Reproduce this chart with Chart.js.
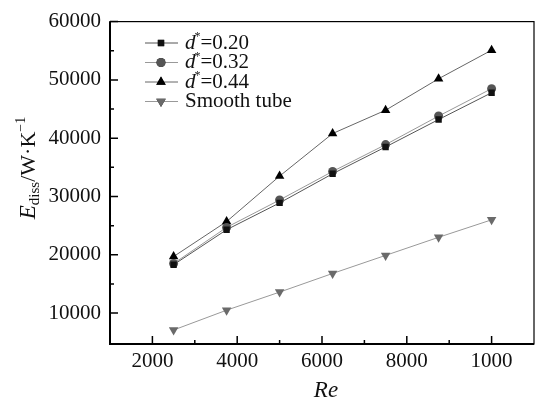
<!DOCTYPE html>
<html>
<head>
<meta charset="utf-8">
<script src="https://cdn.jsdelivr.net/npm/chart.js@4/dist/chart.umd.min.js"></script>
<style>
  html, body { margin: 0; padding: 0; background: #fff; }
  #wrap { width: 540px; height: 401px; }
</style>
</head>
<body>
<div id="wrap"><canvas id="grafik"></canvas></div>
<script>
// data
var reValues = [2500, 3750, 5000, 6250, 7500, 8750, 10000];
var d020 = [18300, 24300, 28900, 33900, 38500, 43200, 47800];
var d032 = [18500, 24700, 29400, 34300, 38900, 43800, 48500];
var d044 = [19700, 25700, 33500, 40800, 44800, 50200, 55100];
var smoothTube = [7100, 10500, 13600, 16800, 19900, 23000, 26000];
var legendNames = ['0.20', '0.32', '0.44', 'Smooth tube'];
var xTicks = [2000, 4000, 6000, 8000, 10000];
var xTickLabels = ['2000', '4000', '6000', '8000', '1000'];
var xMinor = [3000, 5000, 7000, 9000];
var yTicks = [10000, 20000, 30000, 40000, 50000, 60000];
var yMinor = [15000, 25000, 35000, 45000, 55000];

var serif = '"Liberation Serif", "DejaVu Serif", serif';

function pts(arr) {
    return reValues.map(function (x, i) { return { x: x, y: arr[i] }; });
}

var seriesDefs = [
    { data: d020, style: 'rect', rot: 0, color: '#111', line: '#555', r: 4.5 },
    { data: d032, style: 'circle', rot: 0, color: '#555', line: '#999', r: 4.5 },
    { data: d044, style: 'triangle', rot: 0, color: '#000', line: '#666', r: 5.5 },
    { data: smoothTube, style: 'triangle', rot: 180, color: '#6a6a6a', line: '#999', r: 5.5 }
];

// inward ticks, frame, legend and axis titles
var extras = {
    id: 'extras',
    afterDraw: function (chart) {
        var c = chart.ctx, a = chart.chartArea;
        var xs = chart.scales.x, ys = chart.scales.y;
        c.save();
        c.strokeStyle = '#000';
        c.lineWidth = 1.2;
        c.strokeRect(a.left, a.top, a.right - a.left, a.bottom - a.top);
        c.lineWidth = 2;
        c.beginPath();
        c.moveTo(a.left, a.top); c.lineTo(a.left, a.bottom); c.lineTo(a.right, a.bottom);
        c.stroke();

        c.lineWidth = 1.5;
        c.beginPath();
        xTicks.forEach(function (v) {
            var p = xs.getPixelForValue(v);
            c.moveTo(p, a.bottom); c.lineTo(p, a.bottom - 8);
        });
        xMinor.forEach(function (v) {
            var p = xs.getPixelForValue(v);
            c.moveTo(p, a.bottom); c.lineTo(p, a.bottom - 4);
        });
        yTicks.forEach(function (v) {
            var p = ys.getPixelForValue(v);
            c.moveTo(a.left, p); c.lineTo(a.left + 8, p);
        });
        yMinor.forEach(function (v) {
            var p = ys.getPixelForValue(v);
            c.moveTo(a.left, p); c.lineTo(a.left + 4, p);
        });
        c.stroke();

        // legend
        c.textBaseline = 'middle';
        chart.data.datasets.forEach(function (ds, i) {
            var y = 43 + i * 19.5;
            c.strokeStyle = ds.borderColor;
            c.lineWidth = 1;
            c.beginPath(); c.moveTo(145, y); c.lineTo(178, y); c.stroke();
            Chart.helpers.drawPoint(c, {
                pointStyle: ds.pointStyle, rotation: ds.pointRotation,
                radius: ds.pointRadius, borderWidth: 0
            }, 161, y);
            c.fillStyle = ds.pointBackgroundColor;
            c.fill();
            c.fillStyle = '#111';
            if (i < 3) {
                c.font = 'italic 21px ' + serif;
                c.textAlign = 'left';
                c.fillText('d', 185, y);
                var w = c.measureText('d').width;
                c.font = '12px ' + serif;
                c.fillText('*', 185 + w - 1, y - 6);
                c.font = '21px ' + serif;
                c.fillText('=' + legendNames[i], 185 + w + 5, y);
            } else {
                c.font = '21px ' + serif;
                c.textAlign = 'left';
                c.fillText(legendNames[i], 185, y);
            }
        });

        // x title
        c.fillStyle = '#111';
        c.textAlign = 'center';
        c.font = 'italic 23px ' + serif;
        c.fillText('Re', 326, 391);

        // y title, rotated
        c.translate(29, 168);
        c.rotate(-Math.PI / 2);
        var parts = [
            { t: 'E', f: 'italic 23px ' + serif, dy: 0 },
            { t: 'diss', f: '15px ' + serif, dy: 6 },
            { t: '/W\u00b7K', f: '22px ' + serif, dy: 0 },
            { t: '\u22121', f: '14px ' + serif, dy: -8 }
        ];
        var total = 0;
        parts.forEach(function (p) { c.font = p.f; p.w = c.measureText(p.t).width; total += p.w; });
        var xx = -total / 2;
        c.textAlign = 'left';
        parts.forEach(function (p) { c.font = p.f; c.fillText(p.t, xx, p.dy); xx += p.w; });
        c.restore();
    }
};

var ctx = document.getElementById('grafik').getContext('2d');
var chart = new Chart(ctx, {
    type: 'line',
    data: {
        datasets: seriesDefs.map(function (s, i) {
            return {
                label: legendNames[i],
                data: pts(s.data),
                borderColor: s.line,
                borderWidth: 1,
                pointStyle: s.style,
                pointRotation: s.rot,
                pointRadius: s.r,
                pointBackgroundColor: s.color,
                pointBorderColor: s.color,
                pointBorderWidth: 0,
                tension: 0
            };
        })
    },
    options: {
        responsive: true,
        maintainAspectRatio: false,
        animation: false,
        layout: { padding: { top: 17, right: 6, left: 0, bottom: 0 } },
        plugins: { legend: { display: false }, tooltip: { enabled: false } },
        scales: {
            x: {
                type: 'linear',
                min: 1000,
                max: 11000,
                afterBuildTicks: function (s) { s.ticks = xTicks.map(function (v) { return { value: v }; }); },
                afterFit: function (s) { s.height = 57; },
                grid: { display: false, drawTicks: false },
                border: { display: false },
                ticks: {
                    padding: 5,
                    color: '#111',
                    font: { family: serif, size: 21 },
                    maxRotation: 0,
                    callback: function (v) { return xTickLabels[xTicks.indexOf(v)]; }
                }
            },
            y: {
                min: 4700,
                max: 60000,
                afterBuildTicks: function (s) { s.ticks = yTicks.map(function (v) { return { value: v }; }); },
                afterFit: function (s) { s.width = 110; },
                grid: { display: false, drawTicks: false },
                border: { display: false },
                ticks: {
                    padding: 9,
                    color: '#111',
                    font: { family: serif, size: 21 },
                    callback: function (v) { return String(v); }
                }
            }
        }
    },
    plugins: [extras]
});
</script>
</body>
</html>
